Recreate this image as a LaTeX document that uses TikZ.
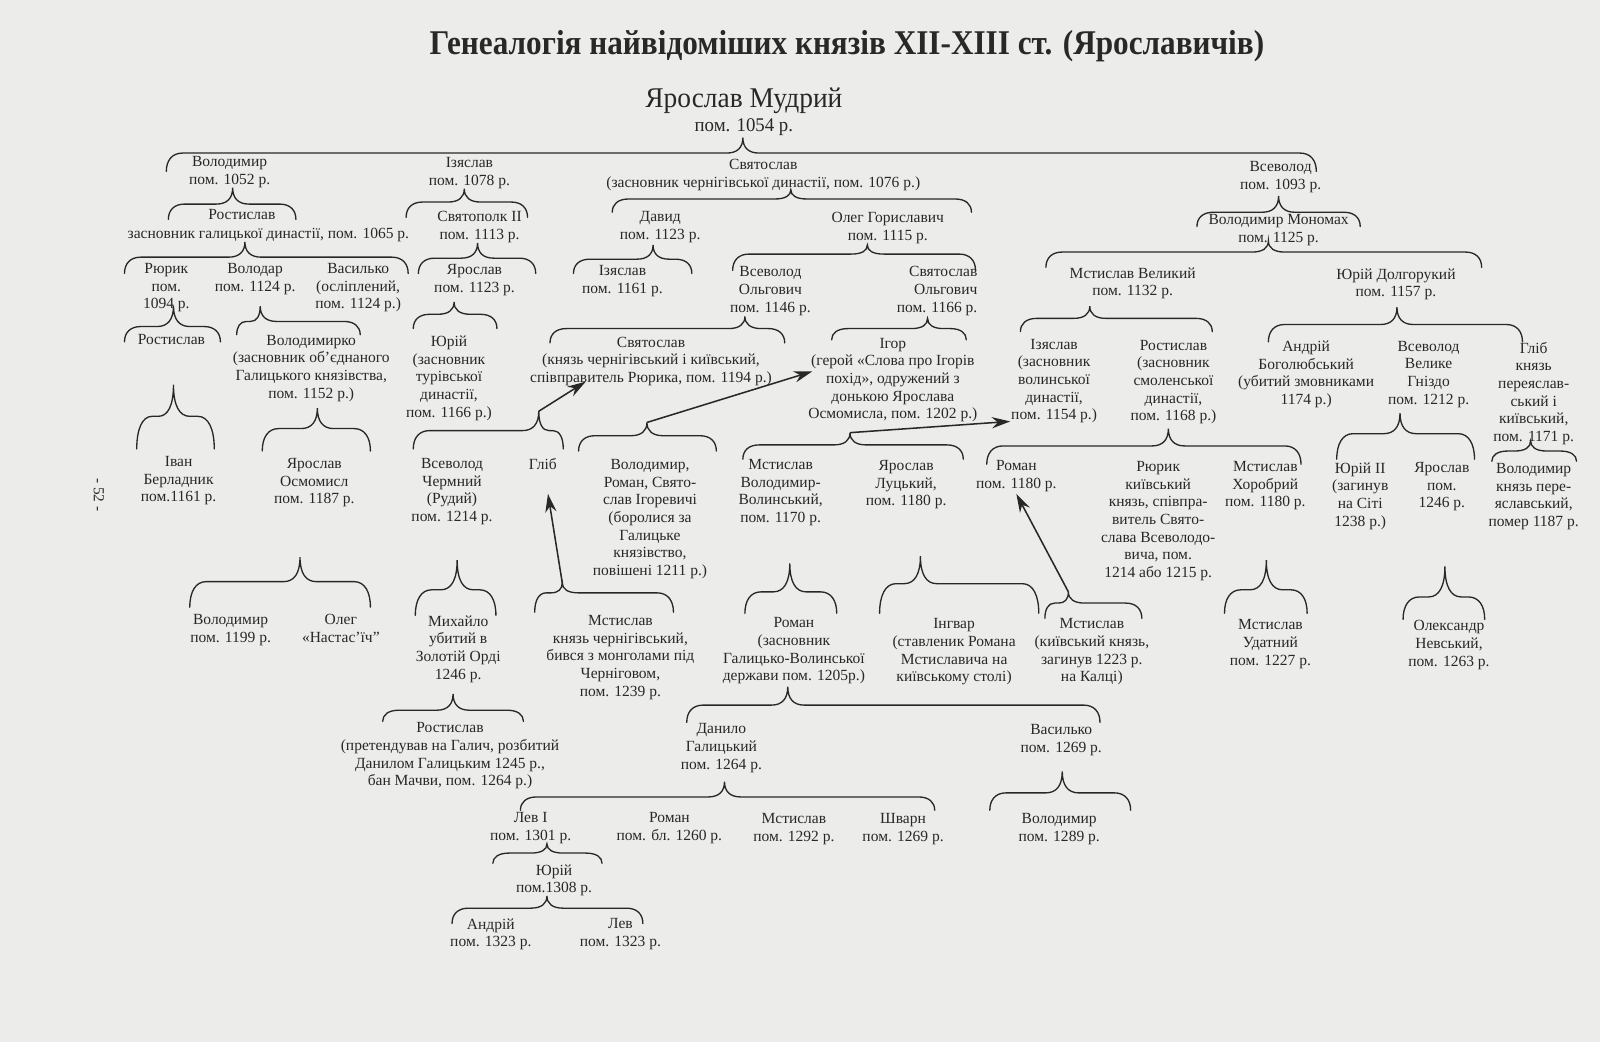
\documentclass[tikz,border=0pt]{standalone}
\usepackage{fontspec}
\setmainfont{Liberation Serif}
\usetikzlibrary{arrows.meta}
\definecolor{ink}{RGB}{40,40,40}
\definecolor{paper}{RGB}{236,236,235}
\newcommand\fs{\fontsize{15.2}{17.3}\selectfont}
\newcommand\gbr[7]{%
  \pgfmathsetmacro\gbA{min(16,(#3-#1)/2.4)}%
  \pgfmathsetmacro\gbB{min(16,(#2-#3)/2.4)}%
  \pgfmathsetmacro\gbYa{#5+0.4*(#4-#5)}%
  \pgfmathsetmacro\gbYb{#5-0.35*(#5-#6)}%
  \coordinate (#7) at (#3,#6);
  \draw[brc] (#1,#4) .. controls (#1,\gbYa) and ({#1+0.35*\gbA},#5) .. ({#1+\gbA},#5)
    -- ({#3-\gbA},#5) .. controls ({#3-0.35*\gbA},#5) and (#3,\gbYb) .. (#7)
    .. controls (#3,\gbYb) and ({#3+0.35*\gbB},#5) .. ({#3+\gbB},#5)
    -- ({#2-\gbB},#5) .. controls ({#2-0.35*\gbB},#5) and (#2,\gbYa) .. (#2,#4);
}
\newcommand\N[4]{\node[t] (#1) at (#2,{#3-6}) {#4};}
\begin{document}
\begin{tikzpicture}[x=1pt,y=-1pt,
  t/.style={anchor=north,align=center,inner sep=0pt,font=\fs,text=ink},
  brc/.style={draw=ink,line width=1.3pt,line cap=round},
  arr/.style={draw=ink,line width=1.5pt,-{Stealth[length=18pt,width=11pt]}}]
\fill[paper] (0,0) rectangle (1568,1021);
\useasboundingbox (0,0) rectangle (1568,1021);
% title
\node[text=ink,inner sep=0pt] (title) at (830,45) {\fontsize{34}{38}\selectfont\bfseries\scalebox{0.9}[1]{Генеалогія найвідоміших князів XII-XIII ст. (Ярославичів)}};
\node[text=ink,inner sep=0pt] (ym) at (729,99) {\fontsize{28}{32}\selectfont\scalebox{0.96}[1]{Ярослав Мудрий}};
\node[text=ink,inner sep=0pt] (ymd) at (729,125) {\fontsize{19}{22}\selectfont\scalebox{0.97}[1]{пом. 1054 р.}};
\node[text=ink,inner sep=0pt,rotate=-90] (page) at (97,485) {\fontsize{15}{18}\selectfont - 52 -};
% level 1
\N{vol}{225}{159}{Володимир\\пом. 1052 р.}
\N{izia}{460}{160}{Ізяслав\\пом. 1078 р.}
\N{svia}{748}{162}{Святослав\\(засновник чернігівської династії, пом. 1076 р.)}
\N{vsev}{1255}{164}{Всеволод\\пом. 1093 р.}
% level 2
\N{rost}{237}{211}{Ростислав}
\N{rostd}{263}{229}{засновник галицької династії, пом. 1065 р.}
\N{svpk}{470}{213}{Святополк II\\пом. 1113 р.}
\N{david}{647}{213}{Давид\\пом. 1123 р.}
\N{oleg}{870}{214}{Олег Гориславич\\пом. 1115 р.}
\N{mono}{1253}{216}{Володимир Мономах\\пом. 1125 р.}
% level 3
\N{riuryk}{163}{264}{Рюрик\\пом.\\1094 р.}
\N{volodar}{250}{264}{Володар\\пом. 1124 р.}
\N{vasylko}{351}{264}{Василько\\(осліплений,\\пом. 1124 р.)}
\N{yarosl}{465}{265}{Ярослав\\пом. 1123 р.}
\N{izia3}{610}{266}{Ізяслав\\пом. 1161 р.}
\N{vsol}{755}{267}{Всеволод\\Ольгович\\пом. 1146 р.}
\node[t,align=right,anchor=north east] (svol) at (958,{267-6}) {Святослав\\Ольгович\\пом. 1166 р.};
\N{mstv}{1110}{268}{Мстислав Великий\\пом. 1132 р.}
\N{yurd}{1368}{269}{Юрій Долгорукий\\пом. 1157 р.}
% level 4
\N{rost4}{168}{333}{Ростислав}
\N{volko}{305}{334}{Володимирко\\(засновник об’єднаного\\Галицького князівства,\\пом. 1152 р.)}
\N{yurt}{440}{335}{Юрій\\(засновник\\турівської\\династії,\\пом. 1166 р.)}
\N{svvs}{638}{336}{Святослав\\(князь чернігівський і київський,\\співправитель Рюрика, пом. 1194 р.)}
\N{ihor}{875}{337}{Ігор\\(герой «Слова про Ігорів\\похід», одружений з\\донькою Ярослава\\Осмомисла, пом. 1202 р.)}
\N{iziav}{1033}{338}{Ізяслав\\(засновник\\волинської\\династії,\\пом. 1154 р.)}
\N{rostsm}{1150}{339}{Ростислав\\(засновник\\смоленської\\династії,\\пом. 1168 р.)}
\N{andr}{1280}{340}{Андрій\\Боголюбський\\(убитий змовниками\\1174 р.)}
\N{vsvg}{1400}{340}{Всеволод\\Велике\\Гніздо\\пом. 1212 р.}
\N{hlib4}{1503}{341}{Гліб\\князь\\переяслав-\\ський і\\київський,\\пом. 1171 р.}
% level 5
\N{ivan}{175}{453}{Іван\\Берладник\\пом.1161 р.}
\N{yaos}{308}{455}{Ярослав\\Осмомисл\\пом. 1187 р.}
\N{vsch}{443}{455}{Всеволод\\Чермний\\(Рудий)\\пом. 1214 р.}
\N{hlib5}{532}{455}{Гліб}
\N{ihorv}{637}{456}{Володимир,\\Роман, Свято-\\слав Ігоревичі\\(боролися за\\Галицьке\\князівство,\\повішені 1211 р.)}
\N{mvv}{765}{456}{Мстислав\\Володимир-\\Волинський,\\пом. 1170 р.}
\N{yalu}{888}{457}{Ярослав\\Луцький,\\пом. 1180 р.}
\N{rom5}{996}{457}{Роман\\пом. 1180 р.}
\N{riur5}{1135}{458}{Рюрик\\київський\\князь, співпра-\\витель Свято-\\слава Всеволодо-\\вича, пом.\\1214 або 1215 р.}
\N{msh}{1240}{458}{Мстислав\\Хоробрий\\пом. 1180 р.}
\N{yur2}{1333}{459}{Юрій II\\(загинув\\на Сіті\\1238 р.)}
\N{yar5}{1413}{459}{Ярослав\\пом.\\1246 р.}
\N{vol5}{1503}{460}{Володимир\\князь пере-\\яславський,\\помер 1187 р.}
% level 6
\N{vol6}{226}{608}{Володимир\\пом. 1199 р.}
\N{oleg6}{334}{608}{Олег\\«Настас’їч”}
\N{myh}{449}{609}{Михайло\\убитий в\\Золотій Орді\\1246 р.}
\N{mch}{608}{609}{Мстислав\\князь чернігівський,\\бився з монголами під\\Черніговом,\\пом. 1239 р.}
\N{rom6}{778}{611}{Роман\\(засновник\\Галицько-Волинської\\держави пом. 1205р.)}
\N{ingv}{935}{612}{Інгвар\\(ставленик Романа\\Мстиславича на\\київському столі)}
\N{mkal}{1070}{612}{Мстислав\\(київський князь,\\загинув 1223 р.\\на Калці)}
\N{mud}{1245}{613}{Мстислав\\Удатний\\пом. 1227 р.}
\N{olnev}{1420}{614}{Олександр\\Невський,\\пом. 1263 р.}
% level 7
\N{rost7}{441}{714}{Ростислав\\(претендував на Галич, розбитий\\Данилом Галицьким 1245 р.,\\бан Мачви, пом. 1264 р.)}
\N{dan}{707}{715}{Данило\\Галицький\\пом. 1264 р.}
\N{vasyl7}{1040}{716}{Василько\\пом. 1269 р.}
% level 8
\N{lev1}{520}{802}{Лев I\\пом. 1301 р.}
\N{rom8}{656}{802}{Роман\\пом. бл. 1260 р.}
\N{mst8}{778}{803}{Мстислав\\пом. 1292 р.}
\N{shv}{885}{803}{Шварн\\пом. 1269 р.}
\N{vol8}{1038}{803}{Володимир\\пом. 1289 р.}
% level 9
\N{yur9}{543}{853}{Юрій\\пом.1308 р.}
\N{andr10}{481}{906}{Андрій\\пом. 1323 р.}
\N{lev10}{608}{906}{Лев\\пом. 1323 р.}
% braces
\gbr{163}{1290}{728}{168}{150}{135}{b0}
\gbr{165}{290}{228}{215}{200}{184}{b1}
\gbr{398}{517}{455}{213}{198}{185}{b2}
\gbr{600}{952}{775}{208}{195}{186}{b3}
\gbr{1173}{1333}{1253}{222}{208}{192}{b4}
\gbr{122}{400}{240}{268}{252}{237}{b5}
\gbr{410}{525}{468}{268}{253}{238}{b6}
\gbr{562}{678}{640}{268}{254}{240}{b7}
\gbr{718}{956}{850}{265}{249}{240}{b8}
\gbr{1025}{1452}{1243}{262}{247}{236}{b9}
\gbr{122}{216}{170}{335}{320}{300}{b10}
\gbr{232}{353}{255}{328}{315}{300}{b11}
\gbr{405}{487}{445}{322}{308}{296}{b12}
\gbr{539}{769}{730}{336}{322}{310}{b13}
\gbr{815}{947}{909}{333}{322}{312}{b14}
\gbr{1000}{1188}{1068}{325}{312}{300}{b15}
\gbr{1243}{1492}{1369}{335}{318}{301}{b16}
\gbr{134}{210}{170}{440}{408}{377}{b17}
\gbr{257}{363}{311}{442}{420}{400}{b18}
\gbr{405}{552}{528}{440}{422}{403}{tipY}
\gbr{567}{702}{634}{442}{427}{414}{tipIh}
\gbr{728}{944}{833}{450}{436}{424}{tipMV}
\gbr{967}{1275}{1145}{455}{437}{420}{b22}
\gbr{1310}{1445}{1372}{450}{425}{405}{b23}
\gbr{1462}{1545}{1500}{452}{442}{432}{b24}
\gbr{186}{363}{294}{595}{570}{546}{b25}
\gbr{407}{486}{448}{603}{578}{549}{b26}
\gbr{524}{660}{551}{600}{581}{571}{tipHl}
\gbr{730}{820}{774}{601}{580}{552}{b28}
\gbr{862}{1018}{902}{601}{572}{545}{b29}
\gbr{1024}{1119}{1047}{606}{591}{580}{tipMk}
\gbr{1200}{1281}{1241}{601}{578}{549}{b31}
\gbr{1375}{1455}{1416}{607}{585}{555}{b32}
\gbr{375}{513}{444}{707}{696}{680}{b33}
\gbr{673}{1078}{772}{708}{691}{673}{b34}
\gbr{510}{916}{710}{794}{781}{766}{b35}
\gbr{970}{1108}{1041}{794}{777}{756}{b36}
\gbr{483}{590}{536}{846}{836}{827}{b37}
\gbr{443}{630}{536}{905}{890}{878}{b38}
% arrows
\coordinate (aY) at (574,374);
\coordinate (aIh) at (796,364);
\coordinate (aMV) at (990,413);
\coordinate (aHl) at (537,484);
\coordinate (aMk) at (996,484);
\draw[arr] (tipY) -- (aY);
\draw[arr] (tipIh) -- (aIh);
\draw[arr] (tipMV) -- (aMV);
\draw[arr] (tipHl) -- (aHl);
\draw[arr] (tipMk) -- (aMk);
\end{tikzpicture}
\end{document}
